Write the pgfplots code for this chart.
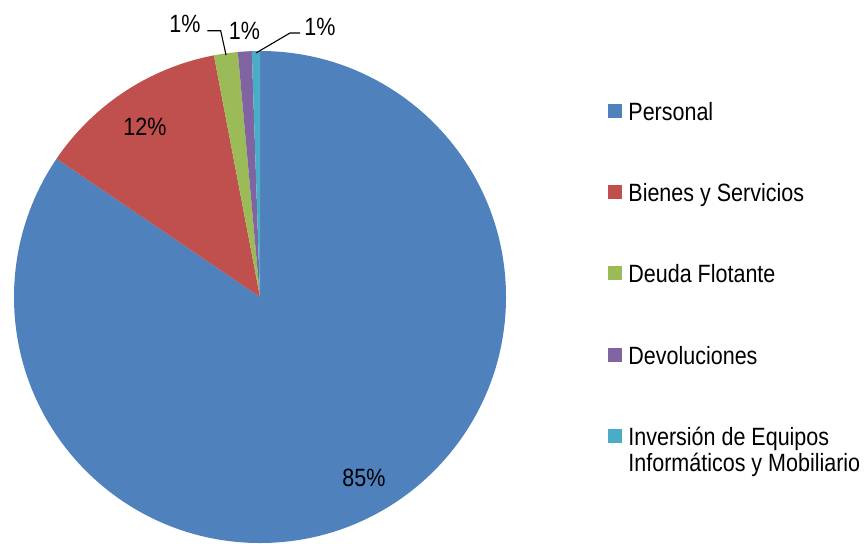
\documentclass[border=0pt]{standalone}
\usepackage{pgfplots}
\usepackage{pgfplotstable}
\pgfplotsset{compat=1.18}
\usepackage{fontspec}
\setmainfont{Liberation Sans}[FakeStretch=0.86]
\definecolor{pBlue}{HTML}{4F81BD}
\definecolor{pRed}{HTML}{C0504D}
\definecolor{pGreen}{HTML}{9BBB59}
\definecolor{pPurple}{HTML}{8064A2}
\definecolor{pCyan}{HTML}{4BACC6}

% shares in percent, clockwise from 12 o'clock
\pgfplotstableread[col sep=comma]{
share,color
84.5,pBlue
12.5,pRed
1.56,pGreen
0.91,pPurple
0.53,pCyan
}\piedata

\tikzset{
  lbl/.style={font=\fontsize{12.5}{15}\selectfont, inner sep=0pt, text=black},
  leader/.style={draw=black, line width=0.55pt}
}

\begin{document}
\begin{tikzpicture}
  \begin{axis}[
    hide axis, scale only axis, clip=false,
    x=1pt, y=1pt,
    xmin=-130, xmax=303, ymin=-121.5, ymax=148.5
  ]
    \addplot[draw=none, forget plot] coordinates {(-130,-121.5) (303,148.5)};
    \pgfplotsextra{%
      \global\def\curang{90}%
      \foreach \i in {0,...,4}{%
        \pgfplotstablegetelem{\i}{share}\of\piedata \let\sh\pgfplotsretval
        \pgfplotstablegetelem{\i}{color}\of\piedata \let\col\pgfplotsretval
        \pgfmathsetmacro{\endang}{\curang-3.6*\sh}%
        \fill[fill=\col] (axis cs:0,0) -- ++(\curang:123pt)
          arc[start angle=\curang, end angle=\endang, radius=123pt] -- cycle;
        \xdef\curang{\endang}%
      }%
    }
    % data labels
    \node[lbl] at (axis cs:52,-90.25) {85\%};
    \node[lbl] at (axis cs:-57.5,85) {12\%};
    \node[lbl] at (axis cs:-37.5,136.5) {1\%};
    \node[lbl] at (axis cs:-7.75,133) {1\%};
    \node[lbl] at (axis cs:30,135) {1\%};
    \draw[leader] (axis cs:-17,121) -- (axis cs:-19.65,133.15) -- (axis cs:-26.35,133.15);
    \draw[leader] (axis cs:-2,122) -- (axis cs:15,132) -- (axis cs:20,132);
    % legend
    \fill[pBlue]   (axis cs:174,89.5)  rectangle (axis cs:181,96.5);
    \fill[pRed]    (axis cs:174,49)    rectangle (axis cs:181,56);
    \fill[pGreen]  (axis cs:174,8.5)   rectangle (axis cs:181,15.5);
    \fill[pPurple] (axis cs:174,-32.5) rectangle (axis cs:181,-25.5);
    \fill[pCyan]   (axis cs:174,-73)   rectangle (axis cs:181,-66);
    \node[lbl, anchor=base west] at (axis cs:184,88.5) {Personal};
    \node[lbl, anchor=base west] at (axis cs:184,48) {Bienes y Servicios};
    \node[lbl, anchor=base west] at (axis cs:184,7.5) {Deuda Flotante};
    \node[lbl, anchor=base west] at (axis cs:184,-33.5) {Devoluciones};
    \node[lbl, anchor=base west] at (axis cs:184,-74) {Inversión de Equipos};
    \node[lbl, anchor=base west] at (axis cs:184,-87.3) {Informáticos y Mobiliario};
  \end{axis}
\end{tikzpicture}
\end{document}
